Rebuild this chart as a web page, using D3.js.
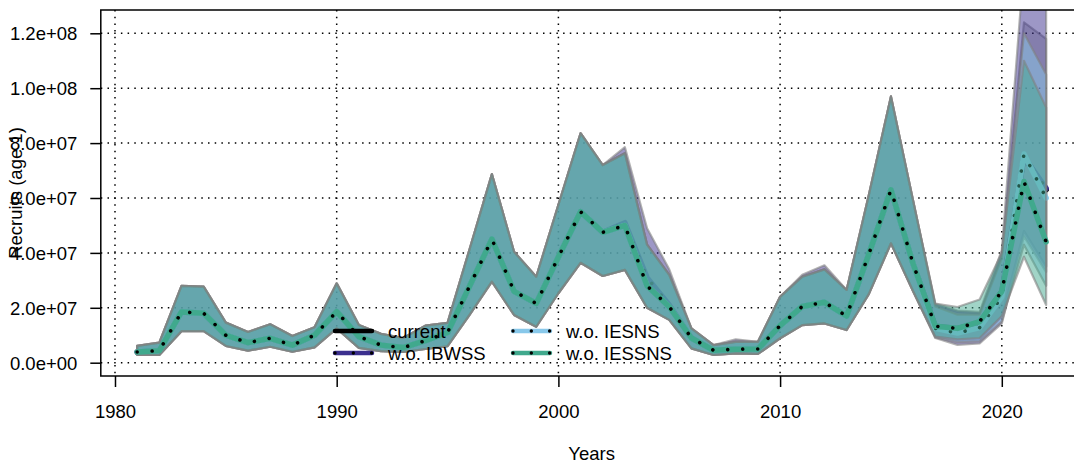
<!DOCTYPE html>
<html><head><meta charset="utf-8">
<script src="https://cdn.jsdelivr.net/npm/d3@7"></script>
<style>
body{margin:0;background:#fff}
svg{display:block}
text{font-family:"Liberation Sans",Arial,Helvetica,sans-serif;fill:#000}
</style>
</head><body>
<svg id="chart" width="1074" height="465"></svg>
<script>
// ---- data (recruits, millions) ----
const years = [1981,1982,1983,1984,1985,1986,1987,1988,1989,1990,1991,1992,1993,1994,1995,1996,1997,1998,1999,2000,2001,2002,2003,2004,2005,2006,2007,2008,2009,2010,2011,2012,2013,2014,2015,2016,2017,2018,2019,2020,2021,2022];

const currentMed = [3.9,4.4,18.5,18,10,7.3,8.9,6.4,10,18.6,9.5,6.4,5.5,8,11,28,45,26,21.6,38.5,55,47.5,50,28,20.4,9,4.5,4.9,5,13.5,20.5,22,17,39.5,63,36,13.3,12.5,14.5,26,75,63];
const currentLo  = [2.8,2.8,11.5,11.5,6.1,4.4,5.8,4.0,5.6,12.5,5.4,4.2,3.9,5,6,17.5,29.5,17.4,13.1,25.3,36.4,31.6,33.8,20,15.6,5.2,2.8,3.4,3.2,8.9,13.7,14.3,11.9,25,43.5,26,9.5,8.3,8.5,16.8,48,35];
const currentHi  = [6.1,7.3,28,27.7,14.6,11.2,14,9.7,12.9,28.9,13.7,10.5,9,13.5,14.5,41.5,68.7,40.4,31.3,57.5,83.6,72,76.3,43,32,12.5,6.4,7.6,7.6,24,31.3,34,26.5,61,97,59,21,18.5,18,39,124,118];

const ibwssMed = [3.9,4.4,18.5,18,10,7.3,8.9,6.4,10,18.6,9.5,6.4,5.5,8,11,28,45,26,21.6,38.5,55,47.5,51,31,21,9,4.5,4.9,5,13.5,20.5,22,17,39.5,63,36,13,11.5,13.5,25,75,63.5];
const ibwssLo  = [2.8,2.8,11.5,11.5,6.1,4.4,5.8,4.0,5.6,12.5,5.4,4.2,3.9,5,6,17.5,29.5,17.4,13.1,25.3,36.4,31.6,33.8,20,15.6,5.2,2.8,3.4,3.2,8.9,13.7,14.3,11.9,25,43.5,26,9,6.5,7,14.3,46,33];
const ibwssHi  = [6.1,7.3,28,27.7,14.6,11.2,14,9.7,12.9,28.9,13.7,10.5,9,13.5,14.5,41.5,68.7,40.4,31.3,57.5,83.6,72,78.5,49,34,12.5,6.4,8.5,7.6,24,32,35.5,26.5,61,97,59,21.5,19,18.5,41,145,140];

const iesnsMed = [3.9,4.4,18.5,18,10,7.3,8.9,6.4,10,18.6,9.5,6.4,5.5,8,11,28,45,26,21.6,38.5,55,47.5,50,28,20.4,9,4.5,4.9,5,13.5,20.5,22,17,39.5,63,36,12.5,10.8,12.8,24,76,60];
const iesnsLo  = [2.8,2.8,11.5,11.5,6.1,4.4,5.8,4.0,5.6,12.5,5.4,4.2,3.9,5,6,17.5,29.5,17.4,13.1,25.3,36.4,31.6,33.8,20,15.6,5.2,2.8,3.4,3.2,8.9,13.7,14.3,11.9,25,43.5,26,9.2,7.5,7.8,15,43,28];
const iesnsHi  = [6.1,7.3,28,27.7,14.6,11.2,14,9.7,12.9,28.9,13.7,10.5,9,13.5,14.5,41.5,68.7,40.4,31.3,57.5,83.6,72,76.3,43,32,12.5,6.4,7.6,7.6,24,31.3,34,26.5,61,97,59,20.5,17.5,17.5,38,120,105];

const iessnsMed = [3.9,4.4,18.5,18,10,7.3,8.9,6.4,10,18.6,9.5,6.4,5.5,8,11,28,45,26,21.6,38.5,55,47.5,50,28,20.4,9,4.5,4.9,5,13.5,20.5,22,17,39.5,63,36,13.3,12.5,15,26,66,44];
const iessnsLo  = [2.8,2.8,11.5,11.5,6.1,4.4,5.8,4.0,5.6,12.5,5.4,4.2,3.9,5,6,17.5,29.5,17.4,13.1,25.3,36.4,31.6,33.8,20,15.6,5.2,2.8,3.4,3.2,8.9,13.7,14.3,11.9,25,43.5,26,9.5,8.5,9,17,38.6,21];
const iessnsHi  = [6.1,7.3,28,27.7,14.6,11.2,14,9.7,12.9,28.9,13.7,10.5,9,13.5,14.5,41.5,68.7,40.4,31.3,57.5,83.6,72,76.3,43,32,12.5,6.4,7.6,7.6,24,31.3,34,26.5,61,97,59,21.5,20.3,23,40,110,93];

const seriesNames = ["current","w.o. IBWSS","w.o. IESNS","w.o. IESSNS"];
const xTicks = [1980,1990,2000,2010,2020];
const xTickLabels = ["1980","1990","2000","2010","2020"];
const yTicks = [0,20,40,60,80,100,120];
const yTickLabels = ["0.0e+00","2.0e+07","4.0e+07","6.0e+07","8.0e+07","1.0e+08","1.2e+08"];

// ---- styles ----
const lineColors = ["#000000","#3b2f8e","#88c8ea","#40a98d"];
const bandColors = ["#000000","#3b2f8e","#88c8ea","#44aa90"];
const bandAlpha  = [0.2,0.5,0.5,0.5];

const series = [
  {med: currentMed, lo: currentLo, hi: currentHi},
  {med: ibwssMed, lo: ibwssLo, hi: ibwssHi},
  {med: iesnsMed, lo: iesnsLo, hi: iesnsHi},
  {med: iessnsMed, lo: iessnsLo, hi: iessnsHi}
].map((s,i)=>({...s, name: seriesNames[i], lc: lineColors[i], bc: bandColors[i], ba: bandAlpha[i]}));

const FS = 18.5;
const pL = 100.8, pR = 1082.5, pT = 10, pB = 376;
const svg = d3.select("#chart");
const x = d3.scaleLinear().domain([1979.36, 2023.64]).range([pL, pR]);
const y = d3.scaleLinear().domain([0, 120]).range([362.7, 33.3]);

svg.append("defs").append("clipPath").attr("id","clip")
  .append("rect").attr("x",pL).attr("y",pT).attr("width",pR-pL).attr("height",pB-pT);

// grid
const grid = svg.append("g");
grid.selectAll("line.v").data(xTicks).join("line")
  .attr("x1",d=>x(d)).attr("x2",d=>x(d)).attr("y1",pT).attr("y2",pB)
  .attr("stroke","#000").attr("stroke-width",1.5).attr("stroke-dasharray","1.5,5.2");
grid.selectAll("line.h").data(yTicks).join("line")
  .attr("y1",d=>y(d)).attr("y2",d=>y(d)).attr("x1",pL).attr("x2",pR)
  .attr("stroke","#000").attr("stroke-width",1.5).attr("stroke-dasharray","1.5,5.2");

// bands and lines
const plot = svg.append("g").attr("clip-path","url(#clip)");
const area = d3.area().x((d,i)=>x(years[i])).y0(d=>y(d[0])).y1(d=>y(d[1]));
const line = d3.line().x((d,i)=>x(years[i])).y(d=>y(d));
series.forEach(s=>{
  const pts = s.lo.map((v,i)=>[v, s.hi[i]]);
  plot.append("path").attr("d", area(pts))
    .attr("fill", s.bc).attr("fill-opacity", s.ba)
    .attr("stroke","#808080").attr("stroke-opacity",0.6).attr("stroke-width",2.2)
    .attr("stroke-linejoin","round");
  plot.append("path").attr("d", line(s.med))
    .attr("fill","none").attr("stroke", s.lc).attr("stroke-width",5.5)
    .attr("stroke-linejoin","round").attr("stroke-linecap","round");
  plot.append("path").attr("d", line(s.med))
    .attr("fill","none").attr("stroke","#000").attr("stroke-width",3.6)
    .attr("stroke-dasharray","0.01,15").attr("stroke-linecap","round");
});

// box
svg.append("rect").attr("x",pL).attr("y",pT).attr("width",pR-pL).attr("height",pB-pT)
  .attr("fill","none").attr("stroke","#000").attr("stroke-width",1.5);

// axes
const yAxis = d3.axisLeft(y).tickValues(yTicks).tickSize(10.5).tickPadding(13)
  .tickFormat((d,i)=>yTickLabels[i]);
const gy = svg.append("g").attr("transform",`translate(${pL},0)`).call(yAxis);
gy.select(".domain").remove();
gy.selectAll(".tick line").attr("stroke-width",1.5);
gy.selectAll("text").attr("font-size",FS).attr("font-family","Liberation Sans, Arial, sans-serif").attr("dy","0.36em");

const xAxis = d3.axisBottom(x).tickValues(xTicks).tickSize(11).tickPadding(17.5)
  .tickFormat((d,i)=>xTickLabels[i]);
const gx = svg.append("g").attr("transform",`translate(0,${pB})`).call(xAxis);
gx.select(".domain").remove();
gx.selectAll(".tick line").attr("stroke-width",1.5);
gx.selectAll("text").attr("font-size",FS).attr("font-family","Liberation Sans, Arial, sans-serif");

// axis titles
svg.append("text").attr("x",(pL+pR)/2).attr("y",460).attr("text-anchor","middle")
  .attr("font-size",FS).text("Years");
svg.append("text").attr("transform",`translate(22,${(pT+pB)/2}) rotate(-90)`)
  .attr("text-anchor","middle").attr("font-size",FS).text("Recruits (age 1)");

// legend
const legPos = [[335,331],[335,353],[513,331],[513,353]];
const leg = svg.append("g");
series.forEach((s,i)=>{
  const [lx,ly] = legPos[i];
  leg.append("line").attr("x1",lx).attr("x2",lx+37).attr("y1",ly).attr("y2",ly)
    .attr("stroke",s.lc).attr("stroke-width",4.5).attr("stroke-linecap","round");
  leg.append("line").attr("x1",lx).attr("x2",lx+37).attr("y1",ly).attr("y2",ly)
    .attr("stroke","#000").attr("stroke-width",3.4).attr("stroke-dasharray","0.01,18.3")
    .attr("stroke-linecap","round");
  leg.append("text").attr("x",lx+53).attr("y",ly+6.6).attr("font-size",FS).text(s.name);
});
</script>
</body></html>
